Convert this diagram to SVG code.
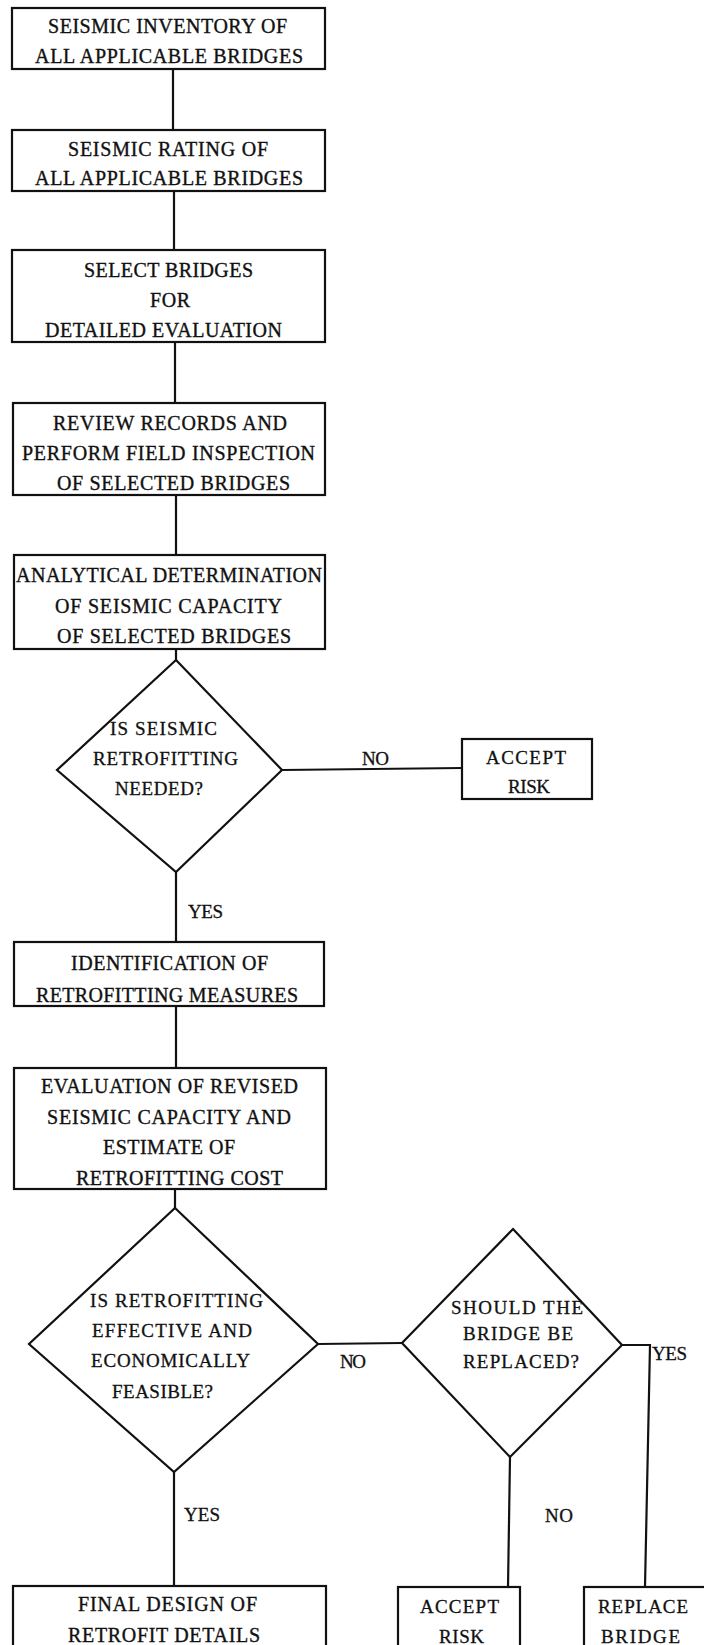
<svg xmlns="http://www.w3.org/2000/svg" width="704" height="1645" viewBox="0 0 704 1645">
<style>
.bx{fill:#fff;stroke:#111;stroke-width:2.2}
.cn{fill:none;stroke:#111;stroke-width:2.2}
.t{font-family:"Liberation Serif","Times New Roman",serif;font-size:20px;fill:#111;stroke:#111;stroke-width:0.35;text-anchor:middle}
.d{font-family:"Liberation Serif","Times New Roman",serif;font-size:19px;fill:#111;stroke:#111;stroke-width:0.3;text-anchor:middle}
</style>
<rect width="704" height="1645" fill="#fff"/>
<g id="connectors">
<path class="cn" d="M173 69V130"/>
<path class="cn" d="M174 191V250"/>
<path class="cn" d="M175 342V403"/>
<path class="cn" d="M176 495V555"/>
<path class="cn" d="M176 649V660"/>
<path class="cn" d="M176 872V942"/>
<path class="cn" d="M282 770L462 768"/>
<path class="cn" d="M176 1006V1068"/>
<path class="cn" d="M175 1189V1208"/>
<path class="cn" d="M174 1472V1586"/>
<path class="cn" d="M318 1344L402 1343"/>
<path class="cn" d="M622 1345H650L645 1587"/>
<path class="cn" d="M510 1457L508 1587"/>
<text class="d" x="375.5" y="765" textLength="27">NO</text>
<text class="d" x="205.5" y="918" textLength="35">YES</text>
<text class="d" x="353" y="1368" textLength="26">NO</text>
<text class="d" x="202" y="1521" textLength="36">YES</text>
<text class="d" x="559" y="1522" textLength="28">NO</text>
<text class="d" x="669.5" y="1360" textLength="35">YES</text>
</g>
<g id="n1">
<rect class="bx" x="12" y="8" width="313" height="61"/>
<text class="t" x="167.5" y="33" textLength="239">SEISMIC INVENTORY OF</text>
<text class="t" x="169" y="63" textLength="268">ALL APPLICABLE BRIDGES</text>
</g>
<g id="n2">
<rect class="bx" x="12" y="130" width="313" height="61"/>
<text class="t" x="168" y="155.5" textLength="200">SEISMIC RATING OF</text>
<text class="t" x="169" y="185" textLength="268">ALL APPLICABLE BRIDGES</text>
</g>
<g id="n3">
<rect class="bx" x="12" y="250" width="313" height="92"/>
<text class="t" x="168.5" y="276.5" textLength="169">SELECT BRIDGES</text>
<text class="t" x="170" y="306.5" textLength="40">FOR</text>
<text class="t" x="163.5" y="337" textLength="237">DETAILED EVALUATION</text>
</g>
<g id="n4">
<rect class="bx" x="13" y="403" width="312" height="92"/>
<text class="t" x="170" y="430" textLength="234">REVIEW RECORDS AND</text>
<text class="t" x="168.5" y="460" textLength="293">PERFORM FIELD INSPECTION</text>
<text class="t" x="173.5" y="490" textLength="233">OF SELECTED BRIDGES</text>
</g>
<g id="n5">
<rect class="bx" x="14" y="555" width="311" height="94"/>
<text class="t" x="169" y="581.5" textLength="306">ANALYTICAL DETERMINATION</text>
<text class="t" x="168.5" y="613" textLength="227">OF SEISMIC CAPACITY</text>
<text class="t" x="174" y="642.5" textLength="234">OF SELECTED BRIDGES</text>
</g>
<g id="d1">
<polygon class="bx" points="176,660 282,770 176,872 57,770"/>
<text class="d" x="163.5" y="735" textLength="107">IS SEISMIC</text>
<text class="d" x="165.5" y="765" textLength="145">RETROFITTING</text>
<text class="d" x="159" y="795" textLength="88">NEEDED?</text>
</g>
<g id="a1">
<rect class="bx" x="462" y="739" width="130" height="60"/>
<text class="d" x="526" y="764" textLength="80">ACCEPT</text>
<text class="d" x="529" y="793" textLength="42">RISK</text>
</g>
<g id="n6">
<rect class="bx" x="14" y="942" width="310" height="64"/>
<text class="t" x="169.5" y="970" textLength="197">IDENTIFICATION OF</text>
<text class="t" x="167" y="1001.5" textLength="262">RETROFITTING MEASURES</text>
</g>
<g id="n7">
<rect class="bx" x="14" y="1068" width="312" height="121"/>
<text class="t" x="169.5" y="1093" textLength="257">EVALUATION OF REVISED</text>
<text class="t" x="169" y="1124" textLength="244">SEISMIC CAPACITY AND</text>
<text class="t" x="169" y="1154" textLength="132">ESTIMATE OF</text>
<text class="t" x="179.5" y="1185" textLength="207">RETROFITTING COST</text>
</g>
<g id="d2">
<polygon class="bx" points="175,1208 318,1344 174,1472 29,1344"/>
<text class="d" x="176.5" y="1307" textLength="173">IS RETROFITTING</text>
<text class="d" x="172" y="1337" textLength="160">EFFECTIVE AND</text>
<text class="d" x="170.5" y="1367" textLength="159">ECONOMICALLY</text>
<text class="d" x="162.5" y="1398" textLength="101">FEASIBLE?</text>
</g>
<g id="d3">
<polygon class="bx" points="513,1229 622,1345 510,1457 402,1343"/>
<text class="d" x="517" y="1314" textLength="132">SHOULD THE</text>
<text class="d" x="518" y="1340" textLength="110">BRIDGE BE</text>
<text class="d" x="521" y="1368" textLength="116">REPLACED?</text>
</g>
<g id="n8">
<rect class="bx" x="13" y="1586" width="313" height="80"/>
<text class="t" x="167.5" y="1611" textLength="179">FINAL DESIGN OF</text>
<text class="t" x="164" y="1642" textLength="192">RETROFIT DETAILS</text>
</g>
<g id="a2">
<rect class="bx" x="398" y="1587" width="122" height="80"/>
<text class="d" x="459.5" y="1613" textLength="79">ACCEPT</text>
<text class="d" x="461.5" y="1643" textLength="45">RISK</text>
</g>
<g id="r1">
<rect class="bx" x="584" y="1587" width="130" height="80"/>
<text class="d" x="643" y="1613" textLength="90">REPLACE</text>
<text class="d" x="640.5" y="1643" textLength="79">BRIDGE</text>
</g>
</svg>
